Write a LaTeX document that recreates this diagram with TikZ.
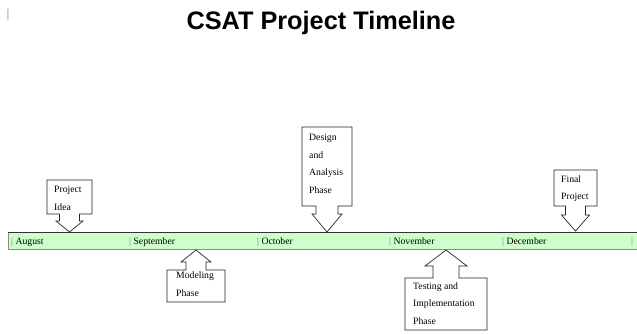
\documentclass[tikz,border=0pt]{standalone}
\usepackage{fontspec}
\setmainfont{Liberation Serif}
\newfontfamily\titlefont{Liberation Sans}
\definecolor{barfill}{HTML}{CCFFCC}
% #1 x-left, #2 x-right, #3 far y, #4 near y (edge toward bar), #5 shaft half width, #6 head half width, #7 head base y, #8 tip y
\newcommand\callshape[8]{%
  \path[callout] (#1,#3) -- (#2,#3) -- (#2,#4) -- ({(#1+#2)/2+#5},#4) -- ({(#1+#2)/2+#5},#7)
    -- ({(#1+#2)/2+#6},#7) -- ({(#1+#2)/2},#8) -- ({(#1+#2)/2-#6},#7) -- ({(#1+#2)/2-#5},#7)
    -- ({(#1+#2)/2-#5},#4) -- (#1,#4) -- cycle;}
\begin{document}
\begin{tikzpicture}[x=1pt,y=-1pt,
  month/.style={font=\fontsize{9.7}{11}\selectfont, anchor=west, inner sep=0pt},
  ctext/.style={font=\fontsize{9.7}{17.5}\selectfont, anchor=west, inner sep=0pt, align=left},
  callout/.style={draw=black!85, fill=white, line width=0.7pt, line join=miter}]
\useasboundingbox (0,0) rectangle (637,333);
\node[font=\titlefont\bfseries\fontsize{25.3}{30}\selectfont] (title) at (321,23) {CSAT Project Timeline};
\node[text=black!60, font=\fontsize{12}{12}\selectfont, inner sep=0pt] (cursor) at (8,15) {|};
% timeline bar
\fill[barfill] (8,232) rectangle (637,249);
\draw[black!45, line width=0.6pt] (8,232) -- (8,249) -- (637,249);
\draw[black!80, line width=0.7pt] (8,232) -- (637,232);
\coordinate (bar) at (8,232);
\node[month] (aug) at (11,242) {{\color{black!50}|} August};
\node[month] (sep) at (129,242) {{\color{black!50}|} September};
\node[month] (oct) at (257,242) {{\color{black!50}|} October};
\node[month] (nov) at (389,242) {{\color{black!50}|} November};
\node[month] (dec) at (502,242) {{\color{black!50}|} December};
\node[month] (end) at (631,242) {{\color{black!50}|}};
% callouts above
\callshape{47}{92}{180}{214}{10}{13.5}{221}{232}
\node[ctext] (idea) at (54,198.5) {Project\\Idea};
\callshape{302}{352}{127}{206}{11}{15}{214}{232}
\node[ctext] (design) at (309,164) {Design\\and\\Analysis\\Phase};
\callshape{554}{597}{170}{206}{10}{14}{215}{231}
\node[ctext] (final) at (561,188.5) {Final\\Project};
% callouts below
\callshape{167}{225}{302}{270}{10}{15}{262}{250}
\node[ctext] (model) at (176,284) {Modeling\\Phase};
\callshape{405}{487}{330}{278}{13}{21}{266}{250}
\node[ctext] (test) at (413,303.5) {Testing and\\Implementation\\Phase};
\end{tikzpicture}
\end{document}
